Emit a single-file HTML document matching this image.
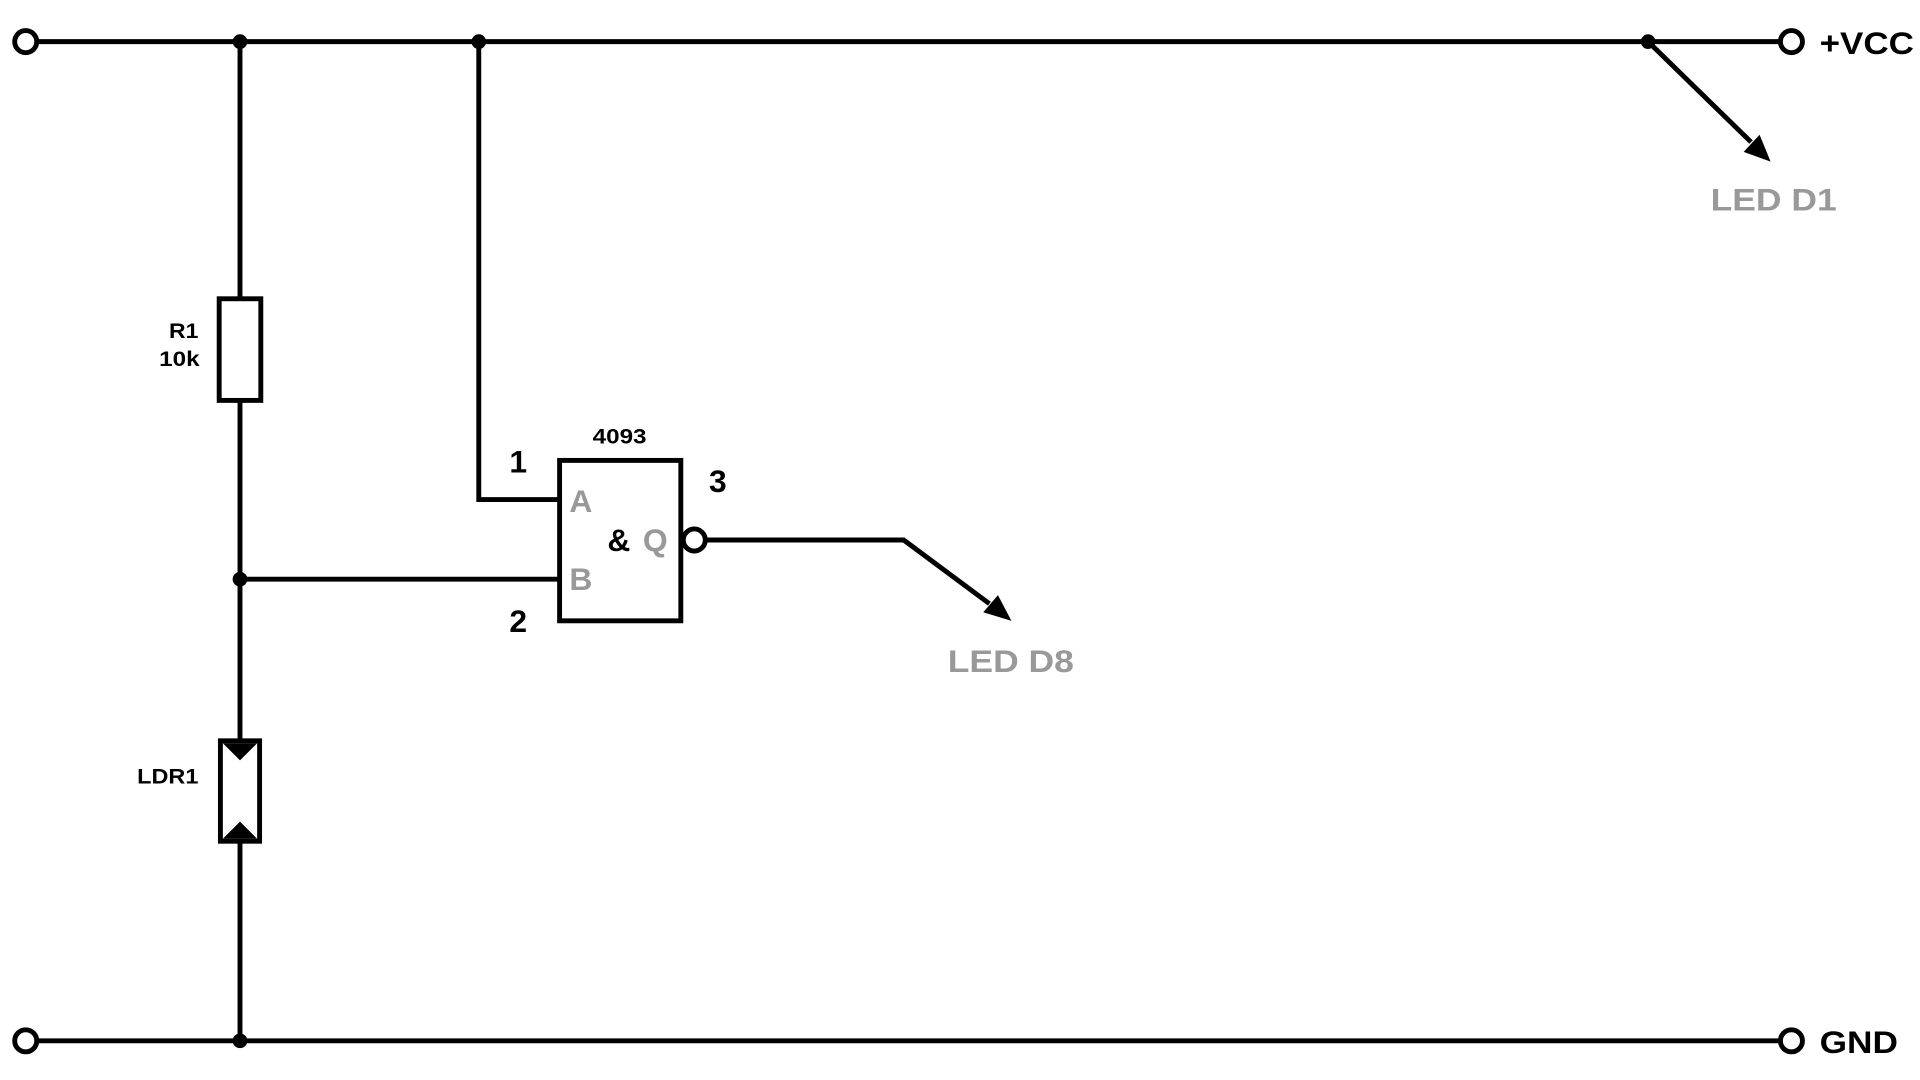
<!DOCTYPE html>
<html><head><style>
html,body{margin:0;padding:0;background:#fff;}
svg{display:block;}
text{font-family:"Liberation Sans",Arial,sans-serif;font-weight:bold;}
</style></head><body>
<svg width="1920" height="1080" viewBox="0 0 1568 882" preserveAspectRatio="none" xmlns="http://www.w3.org/2000/svg">
<g stroke="#000" stroke-width="4" fill="none">
<line x1="30" y1="34" x2="1453" y2="34"/>
<line x1="30" y1="850" x2="1453" y2="850"/>
<circle cx="21" cy="34" r="9" fill="#fff"/>
<circle cx="21" cy="850" r="9" fill="#fff"/>
<circle cx="1463" cy="34" r="9" fill="#fff"/>
<circle cx="1463" cy="850" r="9" fill="#fff"/>
<line x1="196" y1="34" x2="196" y2="244"/>
<line x1="196" y1="327" x2="196" y2="605"/>
<line x1="196" y1="687" x2="196" y2="850"/>
<rect x="179" y="244" width="34" height="83" fill="#fff"/>
<rect x="180" y="605" width="32" height="82" fill="#fff"/>
<polyline points="391,34 391,408 457,408"/>
<line x1="196" y1="473" x2="457" y2="473"/>
<rect x="457" y="376" width="99" height="131" fill="#fff"/>
<circle cx="567" cy="441" r="9" fill="#fff"/>
<polyline points="576,441 738,441 808,493"/>
<line x1="1346" y1="34" x2="1430" y2="116"/>
</g>
<g fill="#000">
<polygon points="182,607 210,607 196,621"/>
<polygon points="182,685 210,685 196,671"/>
<circle cx="196" cy="34" r="6"/>
<circle cx="391" cy="34" r="6"/>
<circle cx="1346" cy="34" r="6"/>
<circle cx="196" cy="473" r="6"/>
<circle cx="196" cy="850" r="6"/>
<polygon points="1446,132 1424,124 1437,110"/>
<polygon points="826,507 803,500 815,486"/>
</g>
<g font-size="17" fill="#000">
<text x="138" y="276" textLength="24" lengthAdjust="spacingAndGlyphs">R1</text>
<text x="130" y="299" textLength="33" lengthAdjust="spacingAndGlyphs">10k</text>
<text x="112" y="640" textLength="50" lengthAdjust="spacingAndGlyphs">LDR1</text>
<text x="484" y="362" textLength="44" lengthAdjust="spacingAndGlyphs">4093</text>
</g>
<g font-size="26" fill="#000">
<text x="416" y="386">1</text>
<text x="416" y="516">2</text>
<text x="579" y="402">3</text>
<text x="496" y="450">&amp;</text>
<text x="1486" y="44" textLength="77" lengthAdjust="spacingAndGlyphs">+VCC</text>
<text x="1486" y="860" textLength="64" lengthAdjust="spacingAndGlyphs">GND</text>
</g>
<g font-size="26" fill="#999">
<text x="465" y="418">A</text>
<text x="465" y="482">B</text>
<text x="525" y="450">Q</text>
<text x="1397" y="172" textLength="103" lengthAdjust="spacingAndGlyphs">LED D1</text>
<text x="774" y="549" textLength="103" lengthAdjust="spacingAndGlyphs">LED D8</text>
</g>
</svg>
</body></html>
